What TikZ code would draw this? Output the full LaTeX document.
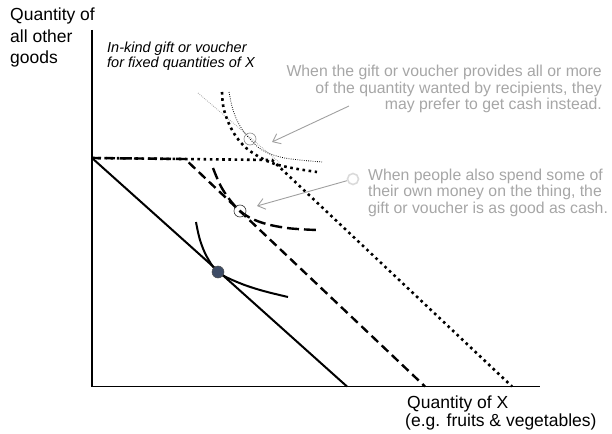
\documentclass[tikz,border=0pt]{standalone}
\usepackage{fontspec}
\setmainfont{Liberation Sans}
\usetikzlibrary{arrows.meta}
\definecolor{notegray}{HTML}{A6A6A6}
\definecolor{arrowgray}{HTML}{A0A0A0}
\definecolor{ringgray}{HTML}{DADADA}
\definecolor{dotblue}{HTML}{3E4C66}
\tikzset{
  axisline/.style={line width=1.3pt, black},
  solidline/.style={line width=2pt, black},
  dashline/.style={line width=2.4pt, black, dash pattern=on 9pt off 5pt},
  dashcurve/.style={line width=2.4pt, black, dash pattern=on 12pt off 5pt},
  dotline/.style={line width=2.6pt, black, dash pattern=on 2.6pt off 3.6pt},
  finedot/.style={line width=0.8pt, black, dash pattern=on 0.8pt off 1.4pt},
  greydot/.style={line width=0.8pt, black!35, dash pattern=on 0.8pt off 1.2pt},
  ring/.style={circle, draw, line width=0.6pt, minimum size=12pt, inner sep=0pt},
  notearrow/.style={line width=0.9pt, arrowgray, -{Straight Barb[length=7pt,width=11pt]}},
  axislabel/.style={font=\fontsize{17.5}{21}\selectfont, inner sep=0pt},
  italiclabel/.style={font=\fontsize{14.5}{14}\selectfont\itshape, inner sep=0pt},
  notetext/.style={font=\fontsize{15.8}{16.5}\selectfont, text=notegray, inner sep=0pt},
}
\begin{document}
\begin{tikzpicture}[x=1pt,y=-1pt]
\useasboundingbox (0,0) rectangle (612,433);
% axes
\coordinate (top) at (92,30);
\coordinate (origin) at (92,386.5);
\coordinate (xend) at (540,386.5);
\draw[axisline] (top) -- (origin) -- (xend);
% budget lines
\coordinate (A) at (92,158);
\coordinate (Bs) at (347,386.5);
\coordinate (Kd) at (185,159);
\coordinate (Bd) at (425,386.5);
\coordinate (Kp) at (272,160);
\coordinate (Bp) at (512,386.5);
\draw[solidline] (A) -- (Bs);
\draw[dotline] (A) -- (Kp) -- (Bp);
\draw[dashline] (A) -- (Kd) -- (Bd);
% grey tangent line
\coordinate (G1) at (198,93);
\coordinate (G2) at (280,163);
\draw[greydot] (G1) -- (G2);
% indifference curves
\draw[solidline] plot[smooth, tension=0.6] coordinates {(196,222) (200,240) (207,257) (218,272) (237,282) (260,290) (288,297)};
\draw[dashcurve] plot[smooth, tension=0.6] coordinates {(213,168) (223,190) (240,211) (260,222) (287,228) (317,230)};
\draw[dotline] plot[smooth, tension=0.6] coordinates {(222,92) (224,110) (232,130) (243,145) (256,155) (272,163) (292,168) (317,172)};
\draw[finedot] plot[smooth, tension=0.6] coordinates {(229,92) (233,110) (240,126) (250,139) (262,150) (280,157) (300,160) (322,162)};
% markers
\node[ring, draw=black!45] (c1) at (250,139) {};
\node[ring, draw=black!80] (c2) at (240,211) {};
\node[circle, fill=dotblue, draw=black!70, line width=0.5pt, minimum size=12pt, inner sep=0pt] (c3) at (218,272) {};
\node[circle, draw=ringgray, line width=1.6pt, minimum size=11pt, inner sep=0pt] (gc) at (353,179) {};
% note arrows
\coordinate (n1s) at (349,106);
\coordinate (n1e) at (272,142);
\coordinate (n2e) at (257,206);
\draw[notearrow] (n1s) -- (n1e);
\draw[notearrow] (gc) -- (n2e);
% labels
\node[axislabel, anchor=base west] (yl1) at (10,21) {Quantity of};
\node[axislabel, anchor=base west] (yl2) at (10,43) {all other};
\node[axislabel, anchor=base west] (yl3) at (10,64) {goods};
\node[axislabel, anchor=base west] (xl1) at (407,408) {Quantity of X};
\node[axislabel, anchor=base west] (xl2) at (405,426) {(e.g. fruits \& vegetables)};
\node[italiclabel, anchor=base west] (il1) at (107,53) {In-kind gift or voucher};
\node[italiclabel, anchor=base west] (il2) at (107,67.5) {for fixed quantities of X};
\node[notetext, anchor=base east] (t11) at (602,77) {When the gift or voucher provides all or more};
\node[notetext, anchor=base east] (t12) at (602,93.5) {of the quantity wanted by recipients, they};
\node[notetext, anchor=base east] (t13) at (602,110) {may prefer to get cash instead.};
\node[notetext, anchor=base west] (t21) at (368,180) {When people also spend some of};
\node[notetext, anchor=base west] (t22) at (368,196.5) {their own money on the thing, the};
\node[notetext, anchor=base west] (t23) at (368,213) {gift or voucher is as good as cash.};
\end{tikzpicture}
\end{document}
